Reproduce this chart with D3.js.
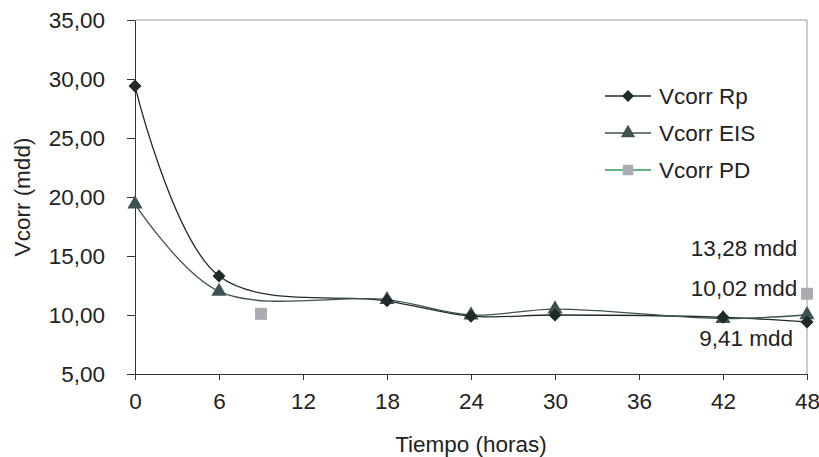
<!DOCTYPE html>
<html>
<head>
<meta charset="UTF-8">
<script src="https://d3js.org/d3.v7.min.js"></script>
<style>
  body { margin: 0; background: #fff; }
  text { font-family: "Liberation Sans", Arial, sans-serif; fill: #222; }
</style>
</head>
<body>
<svg id="chart" width="819" height="457"></svg>
<script>
// datos
const horas = [0, 6, 18, 24, 30, 42, 48];
const rp = [29.4, 13.3, 11.2, 9.9, 10.0, 9.8, 9.41];
const eis = [19.4, 12.0, 11.3, 10.0, 10.5, 9.7, 10.02];
const pdX = [9, 48];
const pdY = [10.1, 11.8];
const xTicks = [0, 6, 12, 18, 24, 30, 36, 42, 48];
const yTicks = [5, 10, 15, 20, 25, 30, 35];
const notas = [
  { texto: "13,28 mdd", x: 47.3, y: 15.0 },
  { texto: "10,02 mdd", x: 47.3, y: 11.6 },
  { texto: "9,41 mdd", x: 47.0, y: 7.4 }
];

const FS = 22.5;
const svg = d3.select("#chart");
const x = d3.scaleLinear().domain([0, 48]).range([135, 807]);
const y = d3.scaleLinear().domain([5, 35]).range([374, 20]);
const fmt = d => d3.format(".2f")(d).replace(".", ",");

// marco
svg.append("line").attr("x1", 135).attr("x2", 807).attr("y1", 20).attr("y2", 20).attr("stroke", "#999");
svg.append("line").attr("x1", 807).attr("x2", 807).attr("y1", 20).attr("y2", 374).attr("stroke", "#999");

const xAxis = svg.append("g").attr("transform", "translate(0,374)")
  .call(d3.axisBottom(x).tickValues(xTicks).tickSize(6).tickSizeOuter(0));
const yAxis = svg.append("g").attr("transform", "translate(135,0)")
  .call(d3.axisLeft(y).tickValues(yTicks).tickFormat(fmt).tickSize(8).tickSizeOuter(0));
[xAxis, yAxis].forEach(a => {
  a.attr("font-size", FS).attr("font-family", "Liberation Sans, Arial, sans-serif");
  a.selectAll("path, line").attr("stroke", "#333");
  a.selectAll("text").attr("fill", "#222");
});
xAxis.selectAll("text").attr("dy", "1.15em");
yAxis.selectAll("text").attr("dy", "0.35em").attr("x", -30);

svg.append("text").attr("x", 471).attr("y", 452).attr("text-anchor", "middle")
  .attr("font-size", FS).text("Tiempo (horas)");
svg.append("text").attr("transform", "translate(30,197) rotate(-90)").attr("text-anchor", "middle")
  .attr("font-size", FS).text("Vcorr (mdd)");

const line = d3.line().x(d => x(d[0])).y(d => y(d[1])).curve(d3.curveCatmullRom.alpha(0.5));
const rombo = r => `M0,${-r}L${r},0L0,${r}L${-r},0Z`;
const series = [
  { nombre: "Vcorr Rp", vals: rp, color: "#1e2b2a", d: rombo(6.5) },
  { nombre: "Vcorr EIS", vals: eis, color: "#3e5351", d: d3.symbol().type(d3.symbolTriangle).size(100)() }
];

series.forEach(s => {
  const pts = horas.map((h, i) => [h, s.vals[i]]);
  svg.append("path").attr("d", line(pts)).attr("fill", "none").attr("stroke", s.color).attr("stroke-width", 1.3);
});
series.slice().reverse().forEach(s => {
  svg.selectAll(null).data(horas.map((h, i) => [h, s.vals[i]])).enter().append("path")
    .attr("d", s.d)
    .attr("transform", d => `translate(${x(d[0])},${y(d[1])})`)
    .attr("fill", s.color);
});
svg.selectAll(null).data(pdX.map((v, i) => [v, pdY[i]])).enter().append("rect")
  .attr("x", d => x(d[0]) - 6).attr("y", d => y(d[1]) - 6)
  .attr("width", 12).attr("height", 12).attr("fill", "#a9acb0");

notas.forEach(n => {
  svg.append("text").attr("x", x(n.x)).attr("y", y(n.y)).attr("text-anchor", "end")
    .attr("font-size", FS).text(n.texto);
});

// leyenda
const leyenda = [
  { nombre: "Vcorr Rp", color: "#1e2b2a", d: rombo(6), linea: "#1e2b2a" },
  { nombre: "Vcorr EIS", color: "#3e5351", d: d3.symbol().type(d3.symbolTriangle).size(90)(), linea: "#3e5351" },
  { nombre: "Vcorr PD", color: "#a9acb0", d: d3.symbol().type(d3.symbolSquare).size(110)(), linea: "#2e9e5e" }
];
leyenda.forEach((l, i) => {
  const ly = 96 + i * 37;
  svg.append("line").attr("x1", 605).attr("x2", 651).attr("y1", ly).attr("y2", ly).attr("stroke", l.linea).attr("stroke-width", 1.3);
  svg.append("path").attr("d", l.d).attr("transform", `translate(628,${ly})`).attr("fill", l.color);
  svg.append("text").attr("x", 659).attr("y", ly + 8).attr("font-size", FS).text(l.nombre);
});
</script>
</body>
</html>
